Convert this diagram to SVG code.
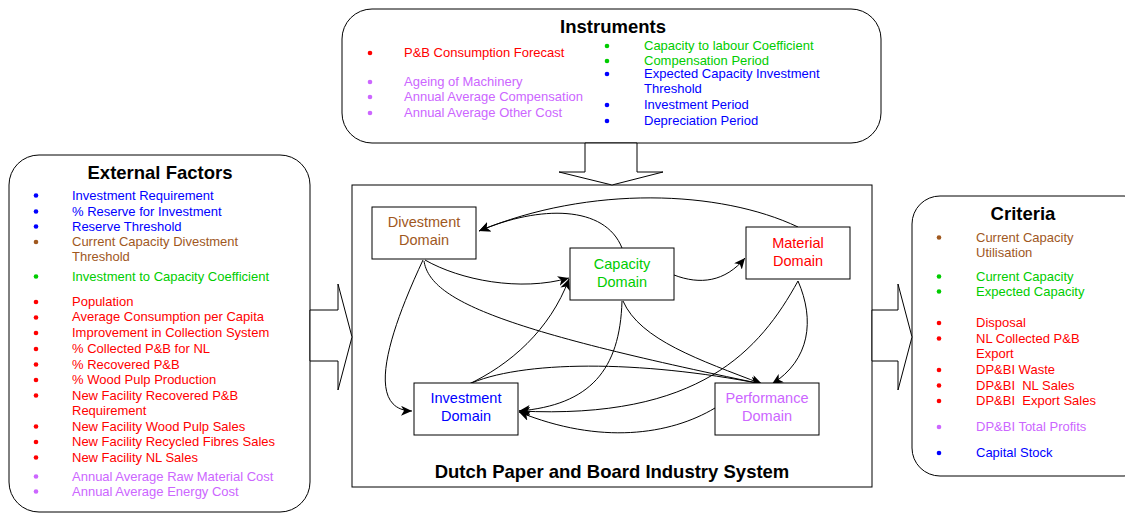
<svg xmlns="http://www.w3.org/2000/svg" width="1125" height="514" viewBox="0 0 1125 514">
  <style>
    text { font-family: "Liberation Sans", Arial, sans-serif; }
    .title { font-size: 18.5px; font-weight: bold; fill: #000; text-anchor: middle; }
    .item { font-size: 13px; }
    .dom { font-size: 14.5px; text-anchor: middle; }
    .panel { fill: #fff; stroke: #000; stroke-width: 1; }
    .box { fill: #fff; stroke: #000; stroke-width: 1; }
    .blk { fill: #fff; stroke: #000; stroke-width: 1; stroke-linejoin: miter; }
    .link { fill: none; stroke: #000; stroke-width: 1; marker-end: url(#arw); }
    .blue { fill: #0000FF; }
    .brown { fill: #A0581E; }
    .green { fill: #00CC00; }
    .red { fill: #FF0000; }
    .purple { fill: #CC66FF; }
  </style>
  <defs>
    <marker id="arw" markerWidth="12" markerHeight="10" refX="11" refY="5" orient="auto" markerUnits="userSpaceOnUse">
      <path d="M0,0 L11,5 L0,10 L3,5 Z" fill="#000"/>
    </marker>
  </defs>

  <rect width="1125" height="514" fill="#fff"/>

  <!-- Instruments panel -->
  <g id="instruments">
    <rect class="panel" x="342" y="9" width="539" height="134" rx="30" ry="30"/>
    <text class="title" x="613" y="33">Instruments</text>
    <circle class="red" cx="370" cy="53" r="2.3"/>
    <text class="item red" x="404" y="57">P&amp;B Consumption Forecast</text>
    <circle class="purple" cx="370" cy="82" r="2.3"/>
    <text class="item purple" x="404" y="86">Ageing of Machinery</text>
    <circle class="purple" cx="370" cy="97" r="2.3"/>
    <text class="item purple" x="404" y="101">Annual Average Compensation</text>
    <circle class="purple" cx="370" cy="113" r="2.3"/>
    <text class="item purple" x="404" y="117">Annual Average Other Cost</text>

    <circle class="green" cx="607" cy="46" r="2.3"/>
    <text class="item green" x="644" y="49.5">Capacity to labour Coefficient</text>
    <circle class="green" cx="607" cy="61" r="2.3"/>
    <text class="item green" x="644" y="64.5">Compensation Period</text>
    <circle class="blue" cx="607" cy="74" r="2.3"/>
    <text class="item blue" x="644" y="78">Expected Capacity Investment</text>
    <text class="item blue" x="644" y="93">Threshold</text>
    <circle class="blue" cx="607" cy="105" r="2.3"/>
    <text class="item blue" x="644" y="108.5">Investment Period</text>
    <circle class="blue" cx="607" cy="121" r="2.3"/>
    <text class="item blue" x="644" y="124.5">Depreciation Period</text>
  </g>

  <!-- External factors panel -->
  <g id="external-factors">
    <rect class="panel" x="9" y="155" width="301" height="357" rx="30" ry="30"/>
    <text class="title" x="160" y="178.5">External Factors</text>
    <circle class="blue" cx="36" cy="195.5" r="2.3"/>
    <text class="item blue" x="72" y="199.5">Investment Requirement</text>
    <circle class="blue" cx="36" cy="211.5" r="2.3"/>
    <text class="item blue" x="72" y="215.5">% Reserve for Investment</text>
    <circle class="blue" cx="36" cy="226.5" r="2.3"/>
    <text class="item blue" x="72" y="230.5">Reserve Threshold</text>
    <circle class="brown" cx="36" cy="242" r="2.3"/>
    <text class="item brown" x="72" y="246">Current Capacity Divestment</text>
    <text class="item brown" x="72" y="261">Threshold</text>
    <circle class="green" cx="36" cy="276.5" r="2.3"/>
    <text class="item green" x="72" y="280.5">Investment to Capacity Coefficient</text>

    <circle class="red" cx="36" cy="302" r="2.3"/>
    <text class="item red" x="72" y="305.5">Population</text>
    <circle class="red" cx="36" cy="317.5" r="2.3"/>
    <text class="item red" x="72" y="321">Average Consumption per Capita</text>
    <circle class="red" cx="36" cy="333" r="2.3"/>
    <text class="item red" x="72" y="337">Improvement in Collection System</text>
    <circle class="red" cx="36" cy="349" r="2.3"/>
    <text class="item red" x="72" y="352.5">% Collected P&amp;B for NL</text>
    <circle class="red" cx="36" cy="364.5" r="2.3"/>
    <text class="item red" x="72" y="368.5">% Recovered P&amp;B</text>
    <circle class="red" cx="36" cy="380" r="2.3"/>
    <text class="item red" x="72" y="384">% Wood Pulp Production</text>
    <circle class="red" cx="36" cy="395.5" r="2.3"/>
    <text class="item red" x="72" y="399.5">New Facility Recovered P&amp;B</text>
    <text class="item red" x="72" y="415">Requirement</text>
    <circle class="red" cx="36" cy="426.5" r="2.3"/>
    <text class="item red" x="72" y="430.5">New Facility Wood Pulp Sales</text>
    <circle class="red" cx="36" cy="442" r="2.3"/>
    <text class="item red" x="72" y="446">New Facility Recycled Fibres Sales</text>
    <circle class="red" cx="36" cy="457.5" r="2.3"/>
    <text class="item red" x="72" y="461.5">New Facility NL Sales</text>
    <circle class="purple" cx="36" cy="476.5" r="2.3"/>
    <text class="item purple" x="72" y="480.5">Annual Average Raw Material Cost</text>
    <circle class="purple" cx="36" cy="491.5" r="2.3"/>
    <text class="item purple" x="72" y="495.5">Annual Average Energy Cost</text>
  </g>

  <!-- Criteria panel -->
  <g id="criteria">
    <rect class="panel" x="912" y="196" width="240" height="280" rx="28" ry="28"/>
    <text class="title" x="1023" y="220">Criteria</text>
    <circle class="brown" cx="939" cy="237.5" r="2.3"/>
    <text class="item brown" x="976" y="241.5">Current Capacity</text>
    <text class="item brown" x="976" y="257">Utilisation</text>
    <circle class="green" cx="939" cy="276.5" r="2.3"/>
    <text class="item green" x="976" y="280.5">Current Capacity</text>
    <circle class="green" cx="939" cy="291.5" r="2.3"/>
    <text class="item green" x="976" y="295.5">Expected Capacity</text>
    <circle class="red" cx="939" cy="323" r="2.3"/>
    <text class="item red" x="976" y="327">Disposal</text>
    <circle class="red" cx="939" cy="338.5" r="2.3"/>
    <text class="item red" x="976" y="342.5">NL Collected P&amp;B</text>
    <text class="item red" x="976" y="358">Export</text>
    <circle class="red" cx="939" cy="370" r="2.3"/>
    <text class="item red" x="976" y="374">DP&amp;BI Waste</text>
    <circle class="red" cx="939" cy="385.5" r="2.3"/>
    <text class="item red" x="976" y="389.5" xml:space="preserve">DP&amp;BI  NL Sales</text>
    <circle class="red" cx="939" cy="401" r="2.3"/>
    <text class="item red" x="976" y="404.5" xml:space="preserve">DP&amp;BI  Export Sales</text>
    <circle class="purple" cx="939" cy="427" r="2.3"/>
    <text class="item purple" x="976" y="430.5">DP&amp;BI Total Profits</text>
    <circle class="blue" cx="939" cy="453" r="2.3"/>
    <text class="item blue" x="976" y="456.5">Capital Stock</text>
  </g>

  <!-- System boundary -->
  <g id="system">
    <rect class="box" x="352" y="185" width="520" height="302"/>
    <text class="title" x="612" y="478">Dutch Paper and Board Industry System</text>
  </g>

  <!-- Block arrows between panels -->
  <g id="flows">
    <polygon class="blk" points="585,143 637,143 637,172 663,172 612,185 559,172 585,172"/>
    <polygon class="blk" points="310,310 338,310 338,284 352,337 338,390 338,361 310,361"/>
    <polygon class="blk" points="872,310 898,310 898,284 912,337 898,390 898,361 872,361"/>
  </g>

  <!-- Domain connectors -->
  <g id="connectors">
    <path class="link" d="M798,227 C720,190 590,185 479,231"/>
    <path class="link" d="M622,248 C605,205 540,205 479,231"/>
    <path class="link" d="M425,260 C460,280 520,292 569,278"/>
    <path class="link" d="M674,275 C700,285 725,282 745,258"/>
    <path class="link" d="M423,260 C395,320 360,410 412,411"/>
    <path class="link" d="M424,261 C430,300 500,330 762,384"/>
    <path class="link" d="M467,385 C510,365 550,330 569,279"/>
    <path class="link" d="M467,385 C520,360 640,360 762,384"/>
    <path class="link" d="M622,301 C620,370 590,405 519,411"/>
    <path class="link" d="M623,301 C640,340 700,360 762,384"/>
    <path class="link" d="M798,281 C760,350 700,420 519,411"/>
    <path class="link" d="M798,281 C815,320 810,360 772,384"/>
    <path class="link" d="M715,408 C670,435 600,445 519,412"/>
  </g>

  <!-- Domain nodes -->
  <g id="divestment-domain">
    <rect class="box" x="372" y="207" width="104" height="52"/>
    <text class="dom brown" x="424" y="227">Divestment</text>
    <text class="dom brown" x="424" y="245">Domain</text>
  </g>
  <g id="capacity-domain">
    <rect class="box" x="570" y="248" width="104" height="52"/>
    <text class="dom green" x="622" y="269">Capacity</text>
    <text class="dom green" x="622" y="287">Domain</text>
  </g>
  <g id="material-domain">
    <rect class="box" x="746" y="227" width="104" height="52"/>
    <text class="dom red" x="798" y="248">Material</text>
    <text class="dom red" x="798" y="266">Domain</text>
  </g>
  <g id="investment-domain">
    <rect class="box" x="414" y="383" width="104" height="52"/>
    <text class="dom blue" x="466" y="403">Investment</text>
    <text class="dom blue" x="466" y="421">Domain</text>
  </g>
  <g id="performance-domain">
    <rect class="box" x="715" y="383" width="104" height="52"/>
    <text class="dom purple" x="767" y="403">Performance</text>
    <text class="dom purple" x="767" y="421">Domain</text>
  </g>
</svg>
